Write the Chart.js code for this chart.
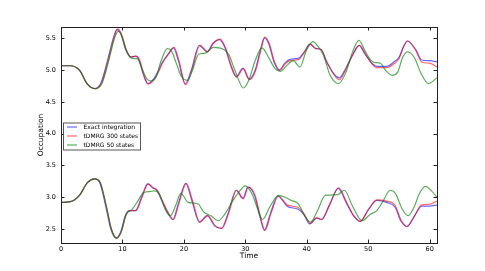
<!DOCTYPE html>
<html>
<head>
<meta charset="utf-8">
<script src="https://cdn.jsdelivr.net/npm/chart.js@4.4.1/dist/chart.umd.min.js"></script>
<style>
  body { margin: 0; background: #fff; }
  #wrap { width: 485px; height: 271px; }
</style>
</head>
<body>
<div id="wrap"><canvas id="occChart" width="485" height="271"></canvas></div>
<script>
// data, [time, occupation]
const exactUpper = [[0,5.07],[1.5,5.07],[3,5.0],[4.3,4.78],[5.5,4.71],[6.5,4.8],[7.7,5.2],[8.5,5.5],[9.1,5.64],[9.7,5.58],[10.5,5.33],[11.3,5.21],[12.1,5.22],[12.7,5.16],[13.4,4.93],[14.1,4.79],[15.2,4.88],[16.6,5.14],[17.4,5.25],[18.3,5.35],[19.1,5.15],[20.2,4.78],[21.2,5.0],[22.5,5.39],[23.8,5.29],[24.7,5.42],[25.8,5.48],[26.7,5.35],[27.7,5.05],[28.5,4.9],[29.6,5.03],[30.6,4.86],[31.6,5.0],[32.4,5.3],[33.1,5.51],[33.8,5.42],[34.7,5.12],[35.5,5.0],[36.5,5.12],[37.3,5.17],[38.7,5.19],[39.6,5.29],[40.5,5.41],[41.5,5.34],[42.3,5.33],[43.3,5.12],[44.5,4.93],[45.3,4.88],[46.3,5.02],[47.5,5.25],[48.5,5.39],[49.5,5.25],[50.5,5.12],[51.4,5.06],[53.0,5.06],[54.2,5.13],[55.0,5.2],[55.8,5.38],[56.4,5.46],[57.7,5.33],[58.7,5.16],[60.0,5.15],[61.2,5.13]];
const dmrg300Upper = [[0,5.07],[1.5,5.07],[3,5.0],[4.3,4.78],[5.5,4.71],[6.6,4.8],[7.8,5.2],[8.6,5.5],[9.2,5.65],[9.8,5.58],[10.6,5.33],[11.4,5.21],[12.2,5.22],[12.8,5.16],[13.5,4.93],[14.2,4.78],[15.3,4.87],[16.7,5.14],[17.5,5.25],[18.4,5.36],[19.2,5.15],[20.3,4.77],[21.3,5.0],[22.6,5.39],[23.9,5.29],[24.8,5.42],[25.9,5.49],[26.8,5.35],[27.8,5.05],[28.6,4.89],[29.7,5.03],[30.7,4.85],[31.7,5.0],[32.5,5.3],[33.2,5.52],[33.9,5.42],[34.8,5.12],[35.6,5.0],[36.5,5.1],[37.3,5.15],[38.7,5.17],[39.6,5.28],[40.6,5.41],[41.5,5.34],[42.3,5.33],[43.3,5.12],[44.5,4.92],[45.3,4.85],[46.3,5.0],[47.5,5.24],[48.6,5.39],[49.6,5.25],[50.6,5.1],[51.4,5.04],[53.0,5.04],[54.2,5.1],[55.0,5.18],[55.8,5.38],[56.4,5.46],[57.7,5.32],[58.7,5.13],[60.0,5.11],[61.2,5.05]];
const dmrg50Upper = [[0,5.07],[1.5,5.07],[3,5.0],[4.3,4.78],[5.6,4.71],[6.7,4.8],[7.9,5.2],[8.7,5.5],[9.3,5.61],[9.9,5.54],[10.7,5.3],[11.5,5.19],[12.4,5.18],[13.2,5.02],[14.0,4.86],[14.7,4.83],[15.5,4.9],[16.3,5.15],[17.3,5.34],[18.0,5.3],[18.8,5.1],[19.6,4.9],[20.6,4.84],[21.4,5.0],[22.4,5.25],[23.5,5.27],[24.8,5.36],[26.4,5.33],[27.3,5.25],[28.3,5.0],[29.7,4.72],[30.6,4.85],[31.6,5.15],[32.7,5.35],[33.8,5.2],[34.8,5.03],[35.7,4.98],[36.8,5.08],[37.8,5.15],[38.9,5.05],[39.9,5.3],[41.0,5.45],[41.8,5.38],[42.7,5.24],[43.8,4.92],[45.2,4.79],[46.3,4.95],[47.5,5.3],[48.5,5.47],[49.5,5.3],[50.5,5.15],[51.1,5.12],[52.0,5.11],[52.8,5.0],[53.9,4.92],[54.8,4.97],[55.6,5.2],[56.4,5.29],[57.5,5.2],[58.6,4.95],[59.8,4.79],[61.2,4.88]];

const exactLower = [[0,2.92],[1.5,2.93],[3,3.03],[4.3,3.23],[5.4,3.29],[6.3,3.23],[7.3,2.85],[8.1,2.5],[9.0,2.36],[9.7,2.45],[10.5,2.72],[11.1,2.79],[12.1,2.79],[13.1,3.0],[14.1,3.21],[14.9,3.15],[15.6,3.11],[16.4,2.95],[17.4,2.75],[18.2,2.65],[19.1,2.9],[20.3,3.22],[21.3,2.95],[22.5,2.61],[23.8,2.71],[25.0,2.55],[26.1,2.51],[27.2,2.75],[28.5,3.11],[29.6,2.98],[30.4,3.16],[31.5,3.03],[32.3,2.72],[33.1,2.48],[34.1,2.75],[35.3,3.02],[36.0,2.96],[36.8,2.86],[38.6,2.81],[39.5,2.73],[40.5,2.58],[41.6,2.67],[42.4,2.65],[43.8,2.9],[45.1,3.14],[46.5,2.9],[47.6,2.71],[48.7,2.62],[50.0,2.8],[51.4,2.95],[53.0,2.92],[54.4,2.84],[55.3,2.63],[56.3,2.54],[57.5,2.7],[58.7,2.86],[60.0,2.86],[61.2,2.88]];
const dmrg300Lower = [[0,2.92],[1.5,2.93],[3,3.03],[4.3,3.23],[5.5,3.29],[6.4,3.23],[7.4,2.85],[8.2,2.5],[9.1,2.36],[9.8,2.45],[10.6,2.72],[11.2,2.79],[12.2,2.79],[13.2,3.0],[14.2,3.21],[15.0,3.15],[15.7,3.11],[16.5,2.95],[17.5,2.75],[18.3,2.65],[19.2,2.9],[20.4,3.22],[21.4,2.95],[22.6,2.61],[23.9,2.71],[25.1,2.55],[26.2,2.51],[27.3,2.75],[28.6,3.11],[29.7,2.98],[30.5,3.16],[31.6,3.03],[32.4,2.72],[33.2,2.48],[34.2,2.75],[35.4,3.02],[36.0,2.97],[36.8,2.88],[38.6,2.84],[39.5,2.75],[40.6,2.59],[41.6,2.68],[42.4,2.65],[43.8,2.9],[45.2,3.15],[46.5,2.92],[47.6,2.72],[48.7,2.62],[50.0,2.8],[51.4,2.96],[53.0,2.94],[54.4,2.87],[55.3,2.65],[56.3,2.54],[57.5,2.7],[58.7,2.88],[60.0,2.89],[61.2,2.94]];
const dmrg50Lower = [[0,2.92],[1.5,2.93],[3,3.03],[4.3,3.23],[5.5,3.29],[6.4,3.23],[7.4,2.85],[8.2,2.5],[9.0,2.35],[9.8,2.46],[10.6,2.73],[11.5,2.8],[12.5,2.94],[13.4,3.07],[14.5,3.09],[15.3,3.1],[16.0,3.05],[17.0,2.8],[17.8,2.71],[18.7,2.88],[19.5,3.06],[20.7,2.92],[21.5,2.91],[22.4,2.89],[23.2,2.77],[24.4,2.71],[25.6,2.63],[26.7,2.74],[28.0,2.95],[29.1,3.1],[30.0,3.18],[31.1,3.05],[32.0,2.82],[32.8,2.65],[34.0,2.85],[35.4,3.03],[36.5,3.0],[37.5,2.95],[38.6,2.9],[39.6,2.72],[40.6,2.61],[41.8,2.8],[43.0,3.03],[45.0,3.04],[46.1,3.11],[47.5,2.85],[49.0,2.63],[50.3,2.73],[51.4,2.79],[52.3,2.92],[53.6,3.11],[54.5,3.05],[55.5,2.82],[56.5,2.71],[57.5,2.85],[58.3,3.05],[59.3,3.17],[60.3,3.1],[61.2,3.0]];

const xTicks = [0, 10, 20, 30, 40, 50, 60];
const yTicks = [2.5, 3.0, 3.5, 4.0, 4.5, 5.0, 5.5];
const seriesNames = ["Exact integration", "tDMRG 300 states", "tDMRG 50 states"];

const colExact = "rgba(0,0,255,0.6)";
const colD300 = "rgba(255,0,0,0.6)";
const colD50 = "rgba(0,128,0,0.65)";

const FONT = "'DejaVu Sans', sans-serif";

function pts(arr) {
    return arr.map(function (p) { return { x: p[0], y: p[1] }; });
}

function line(label, arr, color, order) {
    return {
        label: label,
        data: pts(arr),
        borderColor: color,
        borderWidth: 1.2,
        pointRadius: 0,
        fill: false,
        cubicInterpolationMode: "monotone",
        order: order
    };
}

// matplotlib-ish frame with inward ticks on all sides + legend box
const framePlugin = {
    id: "frame",
    afterDraw: function (chart) {
        const ctx = chart.ctx;
        const a = chart.chartArea;
        const xs = chart.scales.x;
        const ys = chart.scales.y;
        ctx.save();
        ctx.strokeStyle = "#222";
        ctx.lineWidth = 1;
        ctx.strokeRect(Math.round(a.left) + 0.5, Math.round(a.top) + 0.5,
            Math.round(a.right - a.left), Math.round(a.bottom - a.top));

        const tl = 3.5;
        ctx.beginPath();
        xTicks.forEach(function (v) {
            const px = Math.round(xs.getPixelForValue(v)) + 0.5;
            ctx.moveTo(px, a.bottom); ctx.lineTo(px, a.bottom - tl);
            ctx.moveTo(px, a.top); ctx.lineTo(px, a.top + tl);
        });
        yTicks.forEach(function (v) {
            const py = Math.round(ys.getPixelForValue(v)) + 0.5;
            ctx.moveTo(a.left, py); ctx.lineTo(a.left + tl, py);
            ctx.moveTo(a.right, py); ctx.lineTo(a.right - tl, py);
        });
        ctx.stroke();

        // legend, only the first three datasets (upper and lower share labels)
        const lx = a.left + 2.5, ly = ys.getPixelForValue(3.5) - 42.5;
        ctx.fillStyle = "#fff";
        ctx.fillRect(lx, ly, 77, 27);
        ctx.strokeStyle = "#555";
        ctx.strokeRect(lx, ly, 77, 27);
        ctx.font = "6px " + FONT;
        ctx.textBaseline = "middle";
        chart.data.datasets.slice(0, 3).forEach(function (ds, i) {
            const ry = ly + 4 + i * 9;
            ctx.strokeStyle = ds.borderColor;
            ctx.lineWidth = 1.2;
            ctx.beginPath();
            ctx.moveTo(lx + 3.5, ry); ctx.lineTo(lx + 13.5, ry);
            ctx.stroke();
            ctx.fillStyle = "#000";
            ctx.fillText(ds.label, lx + 20, ry + 0.5);
        });
        ctx.restore();
    }
};

document.addEventListener("DOMContentLoaded", function () {
    const canvas = document.getElementById("occChart");
    const ctx = canvas.getContext("2d");

    new Chart(ctx, {
        type: "line",
        data: {
            datasets: [
                line(seriesNames[0], exactUpper, colExact, 2),
                line(seriesNames[1], dmrg300Upper, colD300, 1),
                line(seriesNames[2], dmrg50Upper, colD50, 0),
                line(seriesNames[0], exactLower, colExact, 2),
                line(seriesNames[1], dmrg300Lower, colD300, 1),
                line(seriesNames[2], dmrg50Lower, colD50, 0)
            ]
        },
        options: {
            responsive: false,
            animation: false,
            layout: { padding: { top: 27, right: 48, left: 0, bottom: 0 } },
            plugins: {
                legend: { display: false },
                tooltip: { enabled: false }
            },
            scales: {
                x: {
                    type: "linear",
                    min: 0,
                    max: 61.2,
                    grid: { display: false, drawTicks: false },
                    border: { display: false },
                    afterBuildTicks: function (s) {
                        s.ticks = xTicks.map(function (v) { return { value: v }; });
                    },
                    afterFit: function (s) { s.height = 28; },
                    ticks: {
                        padding: 2.5,
                        color: "#000",
                        maxRotation: 0,
                        font: { family: FONT, size: 6.5 },
                        callback: function (v) { return String(v); }
                    },
                    title: {
                        display: true,
                        text: "Time",
                        color: "#000",
                        font: { family: FONT, size: 7.5 },
                        padding: { top: 0, bottom: 10 }
                    }
                },
                y: {
                    type: "linear",
                    min: 2.28,
                    max: 5.68,
                    grid: { display: false, drawTicks: false },
                    border: { display: false },
                    afterBuildTicks: function (s) {
                        s.ticks = yTicks.map(function (v) { return { value: v }; });
                    },
                    afterFit: function (s) { s.width = 61; },
                    ticks: {
                        padding: 5,
                        color: "#000",
                        font: { family: FONT, size: 6.5 },
                        callback: function (v) { return v.toFixed(1); }
                    },
                    title: {
                        display: true,
                        text: "Occupation",
                        color: "#000",
                        font: { family: FONT, size: 7.5 },
                        padding: { top: 37, bottom: 0 }
                    }
                }
            }
        },
        plugins: [framePlugin]
    });
});
</script>
</body>
</html>
